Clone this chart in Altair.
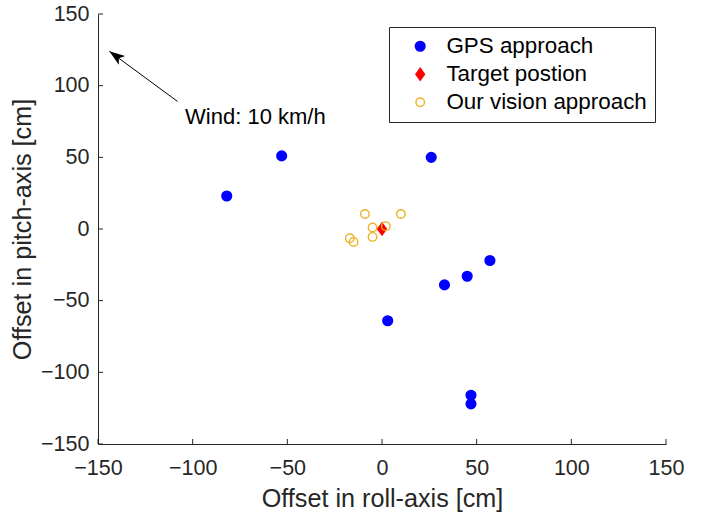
import altair as alt
import pandas as pd

# ---- data ----
gps_x = [-82, -53, 26, 57, 45, 33, 3, 47, 47]
gps_y = [23, 51, 50, -22, -33, -39, -64, -116, -122]
target_x = [0]
target_y = [0]
vision_x = [-9, 10, -5, 2, -5, -17, -15]
vision_y = [10.5, 10.5, 1, 2, -5.5, -6.5, -9]
series_names = ["GPS approach", "Target postion", "Our vision approach"]
tick_values = [-150, -100, -50, 0, 50, 100, 150]
arrow_tail_x, arrow_tail_y = [-108], [89]
arrow_tip_x, arrow_tip_y = [-144], [124]
wind_text = ["Wind: 10 km/h"]
wind_x, wind_y = [-104], [78]

FONT = "Liberation Sans"
AX = "#262626"

rows = []
for x, y in zip(gps_x, gps_y):
    rows.append({"x": x, "y": y, "s": series_names[0]})
for x, y in zip(target_x, target_y):
    rows.append({"x": x, "y": y, "s": series_names[1]})
for x, y in zip(vision_x, vision_y):
    rows.append({"x": x, "y": y, "s": series_names[2]})
pts = pd.DataFrame(rows)

xs = alt.Scale(domain=[-150, 150], nice=False, zero=False)
ys = alt.Scale(domain=[-150, 150], nice=False, zero=False)

diamond = "M0,-1L0.72,0L0,1L-0.72,0Z"

points = alt.Chart(pts).mark_point(strokeWidth=1.4, opacity=1).encode(
    x=alt.X("x:Q", scale=xs, axis=alt.Axis(values=tick_values, ticks=False, grid=False,
                                             labelFlush=False,
                                             title="Offset in roll-axis [cm]", labelPadding=13,
                                             titlePadding=8)),
    y=alt.Y("y:Q", scale=ys, axis=alt.Axis(values=tick_values, ticks=False, grid=False,
                                             labelFlush=False,
                                             title="Offset in pitch-axis [cm]", labelPadding=9,
                                             titlePadding=5)),
    fill=alt.Fill("s:N", scale=alt.Scale(domain=series_names,
                                           range=["#0000ff", "#ff0000", "transparent"]), title=None),
    stroke=alt.Stroke("s:N", scale=alt.Scale(domain=series_names,
                                               range=["#0000ff", "#ff0000", "#EDB120"]), title=None),
    shape=alt.Shape("s:N", scale=alt.Scale(domain=series_names,
                                             range=["circle", diamond, "circle"]), title=None),
    size=alt.Size("s:N", scale=alt.Scale(type="ordinal", domain=series_names,
                                           range=[95, 144, 72]), title=None),
)

tick_df = pd.DataFrame({"v": tick_values})
xticks = alt.Chart(tick_df).mark_rule(color=AX, strokeWidth=1).encode(
    x=alt.X("v:Q", scale=xs), y=alt.value(430), y2=alt.value(425))
yticks = alt.Chart(tick_df).mark_rule(color=AX, strokeWidth=1).encode(
    y=alt.Y("v:Q", scale=ys), x=alt.value(0), x2=alt.value(5))

arrow_df = pd.DataFrame({"x": arrow_tail_x, "y": arrow_tail_y, "x2": arrow_tip_x, "y2": arrow_tip_y})
arrow_line = alt.Chart(arrow_df).mark_rule(color="black", strokeWidth=1).encode(
    x=alt.X("x:Q", scale=xs), y=alt.Y("y:Q", scale=ys), x2="x2:Q", y2="y2:Q")
head_path = "M0,0L0.55,1.6L0,1.2L-0.55,1.6Z"
arrow_head = alt.Chart(arrow_df).mark_point(shape=head_path, angle=306, filled=True,
                                            color="black", size=380, opacity=1).encode(
    x=alt.X("x2:Q", scale=xs), y=alt.Y("y2:Q", scale=ys))

wind_df = pd.DataFrame({"x": wind_x, "y": wind_y, "t": wind_text})
wind = alt.Chart(wind_df).mark_text(align="left", baseline="middle", font=FONT,
                                    fontSize=22, color="black").encode(
    x=alt.X("x:Q", scale=xs), y=alt.Y("y:Q", scale=ys), text="t:N")

chart = alt.layer(xticks, yticks, arrow_line, arrow_head, wind, points).properties(
    width=568, height=430,
    autosize=alt.AutoSizeParams(type="none"),
    padding={"left": 98, "top": 14, "right": 38, "bottom": 74},
).configure_view(stroke=None).configure_axis(
    domainColor=AX, domainWidth=1, labelColor=AX, labelFont=FONT, labelFontSize=21.5,
    titleFont=FONT, titleFontSize=25.2, titleColor=AX, titleFontWeight="normal",
).configure_legend(
    orient="none", legendX=291, legendY=13, strokeColor=AX, fillColor="white",
    padding=8, labelFont=FONT, labelFontSize=22.4, labelColor="black", labelLimit=0,
    symbolOffset=12, labelOffset=15, rowPadding=5, symbolStrokeWidth=1.4,
)

chart.save("out.html", embed_options={"renderer": "svg", "actions": False})
